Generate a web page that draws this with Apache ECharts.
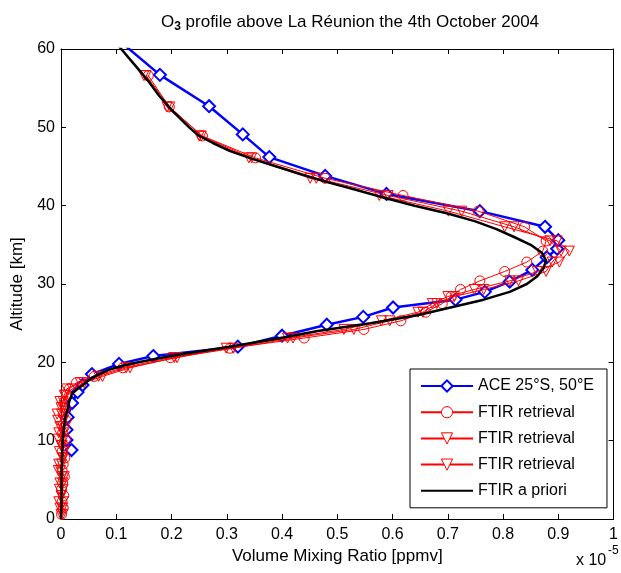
<!DOCTYPE html>
<html>
<head>
<meta charset="utf-8">
<script src="https://cdn.jsdelivr.net/npm/echarts@6/dist/echarts.min.js"></script>
<style>
  html, body { margin: 0; padding: 0; background: #ffffff; }
  #chart { width: 621px; height: 573px; }
</style>
</head>
<body>
<div id="chart"></div>
<script>
// Ozone volume mixing ratio profiles (units of 1e-5 ppmv) versus altitude (km)

// ACE occultation, 25°S 50°E
const aceAlt = [8.8, 10.1, 11.4, 13.0, 14.8, 16.2, 17.1, 18.5, 19.8, 20.8, 22.0, 23.4, 24.8, 25.8, 27.0, 28.0, 29.0, 30.3, 31.8, 33.4, 34.5, 35.6, 37.3, 39.3, 41.5, 43.8, 46.2, 49.1, 52.7, 56.7, 61.5];
const aceVmr = [0.019, 0.010, 0.010, 0.012, 0.020, 0.030, 0.039, 0.056, 0.105, 0.167, 0.320, 0.400, 0.481, 0.547, 0.601, 0.714, 0.767, 0.812, 0.853, 0.879, 0.898, 0.900, 0.876, 0.758, 0.589, 0.478, 0.377, 0.329, 0.268, 0.179, 0.098];

// FTIR retrieval grid (shared by the three retrievals)
const ftirAlt = [0.6, 1.4, 2.2, 3.0, 3.8, 4.6, 5.4, 6.2, 7.0, 7.8, 8.6, 9.4, 10.2, 11.0, 11.8, 12.6, 13.4, 14.2, 15.0, 15.8, 16.6, 17.4, 18.2, 19.3, 20.6, 21.8, 23.1, 24.2, 25.3, 26.4, 27.5, 28.4, 29.3, 30.4, 31.6, 32.8, 34.2, 35.5, 37.3, 39.3, 41.3, 43.5, 46.1, 48.9, 52.6, 56.6];
const ftirCircle = [0.001, 0.004, 0.002, 0.005, 0.001, 0.003, 0.006, 0.002, 0.004, 0.007, 0.002, 0.005, 0.008, 0.003, 0.006, 0.009, 0.004, 0.008, 0.006, 0.010, 0.015, 0.028, 0.060, 0.112, 0.198, 0.306, 0.440, 0.548, 0.615, 0.660, 0.690, 0.706, 0.723, 0.758, 0.803, 0.843, 0.872, 0.878, 0.839, 0.755, 0.619, 0.478, 0.352, 0.256, 0.196, 0.158];
const ftirTriA = [0.000, 0.003, -0.004, 0.001, 0.004, -0.002, 0.002, -0.005, 0.001, 0.004, -0.003, 0.002, 0.005, -0.004, 0.002, -0.006, 0.001, 0.004, -0.002, 0.006, 0.010, 0.035, 0.068, 0.118, 0.210, 0.299, 0.410, 0.512, 0.580, 0.646, 0.672, 0.700, 0.748, 0.812, 0.862, 0.902, 0.920, 0.898, 0.803, 0.701, 0.576, 0.451, 0.340, 0.250, 0.192, 0.150];
const ftirTriB = [0.003, -0.002, 0.004, 0.000, -0.003, 0.003, 0.006, -0.001, -0.004, 0.003, 0.006, 0.000, -0.005, 0.004, -0.002, 0.005, -0.007, 0.000, 0.004, 0.008, 0.020, 0.042, 0.075, 0.125, 0.205, 0.312, 0.420, 0.530, 0.595, 0.655, 0.680, 0.712, 0.765, 0.828, 0.878, 0.889, 0.905, 0.885, 0.820, 0.725, 0.592, 0.462, 0.345, 0.254, 0.197, 0.154];

// FTIR a priori profile
const aprioriAlt = [0, 2, 4, 6, 8, 10, 12, 13, 14, 15, 16, 16.5, 17, 18, 19, 19.5, 20, 20.5, 21, 22, 23, 24, 25, 26, 27, 28, 29, 30, 31, 32, 33, 34, 35, 36, 37, 38, 39, 40, 41, 42, 43, 44, 45, 46, 47, 48, 49, 50, 52, 54, 56, 58, 60, 62];
const aprioriVmr = [0.000, 0.001, 0.001, 0.001, 0.002, 0.003, 0.006, 0.008, 0.012, 0.015, 0.020, 0.028, 0.038, 0.055, 0.085, 0.108, 0.140, 0.175, 0.215, 0.305, 0.390, 0.465, 0.560, 0.645, 0.705, 0.765, 0.812, 0.843, 0.862, 0.873, 0.878, 0.870, 0.850, 0.820, 0.788, 0.750, 0.700, 0.640, 0.585, 0.535, 0.482, 0.435, 0.390, 0.345, 0.305, 0.275, 0.248, 0.232, 0.203, 0.178, 0.157, 0.133, 0.109, 0.085];

const xTicks = { min: 0, max: 1, step: 0.1 };
const yTicks = { min: 0, max: 60, step: 10 };

const FONT = "'Liberation Sans', Arial, Helvetica, sans-serif";
const pairs = (xs, ys) => xs.map((x, i) => [x, ys[i]]);

const chart = echarts.init(document.getElementById('chart'), null, { renderer: 'canvas' });

const axisCommon = {
  axisLine: { show: true, onZero: false, lineStyle: { color: '#000', width: 1 } },
  axisTick: { show: true, inside: true, length: 5, lineStyle: { color: '#000', width: 1 } },
  splitLine: { show: false }
};

const redSeries = (name, data, symbol, rotate) => ({
  name: name,
  type: 'line',
  data: data,
  symbol: symbol,
  symbolSize: 10,
  symbolRotate: rotate,
  showAllSymbol: true,
  clip: false,
  lineStyle: { color: '#ff0000', width: 1 },
  itemStyle: { color: 'none', borderColor: '#ff0000', borderWidth: 1 },
  emphasis: { disabled: true },
  z: 3
});

const redLegendStyle = { color: '#ffffff', borderColor: '#ff0000', borderWidth: 1 };

const option = {
  animation: false,
  backgroundColor: '#ffffff',
  title: {
    text: '{t|O}{s|3}{t| profile above La Réunion the 4th October 2004}',
    left: 345,
    textAlign: 'center',
    top: 6,
    textStyle: {
      rich: {
        t: { fontFamily: FONT, fontSize: 17, color: '#000', fontWeight: 'normal' },
        s: { fontFamily: FONT, fontSize: 12, color: '#000', verticalAlign: 'bottom', padding: [10, 0, 0, 0] }
      }
    }
  },
  grid: { left: 61, right: 1, top: 49, bottom: 54, containLabel: false },
  xAxis: [
    Object.assign({
      type: 'value', position: 'bottom',
      min: xTicks.min, max: xTicks.max, interval: xTicks.step,
      name: 'Volume Mixing Ratio [ppmv]', nameLocation: 'middle', nameGap: 27,
      nameTextStyle: { fontFamily: FONT, fontSize: 17, color: '#000' },
      axisLabel: { fontFamily: FONT, fontSize: 16, color: '#000', margin: 8 }
    }, axisCommon),
    Object.assign({
      type: 'value', position: 'top',
      min: xTicks.min, max: xTicks.max, interval: xTicks.step,
      axisLabel: { show: false }
    }, axisCommon)
  ],
  yAxis: [
    Object.assign({
      type: 'value', position: 'left',
      min: yTicks.min, max: yTicks.max, interval: yTicks.step,
      name: 'Altitude [km]', nameLocation: 'middle', nameGap: 35, nameRotate: 90,
      nameTextStyle: { fontFamily: FONT, fontSize: 17, color: '#000' },
      axisLabel: { fontFamily: FONT, fontSize: 16, color: '#000', margin: 6 }
    }, axisCommon),
    Object.assign({
      type: 'value', position: 'right',
      min: yTicks.min, max: yTicks.max, interval: yTicks.step,
      axisLabel: { show: false }
    }, axisCommon)
  ],
  legend: {
    orient: 'vertical',
    left: 410, top: 369,
    padding: [9, 13, 9, 10],
    itemGap: 10.2,
    itemWidth: 52,
    itemHeight: 14,
    borderColor: '#000', borderWidth: 1,
    backgroundColor: '#ffffff',
    borderRadius: 0,
    textStyle: { fontFamily: FONT, fontSize: 16, color: '#000' },
    selectedMode: false,
    data: [
      'ACE 25°S, 50°E',
      { name: 'FTIR retrieval', itemStyle: redLegendStyle },
      { name: 'FTIR retrieval ', itemStyle: redLegendStyle },
      { name: 'FTIR retrieval  ', itemStyle: redLegendStyle },
      { name: 'FTIR a priori', itemStyle: { color: 'rgba(0,0,0,0)', borderWidth: 0 } }
    ]
  },
  graphic: [
    {
      type: 'text', left: 576, top: 553,
      style: { text: 'x 10', font: '16px ' + FONT, fill: '#000' }
    },
    {
      type: 'text', left: 608, top: 545,
      style: { text: '-5', font: '12px ' + FONT, fill: '#000' }
    }
  ],
  series: [
    {
      name: 'ACE 25°S, 50°E',
      type: 'line',
      data: pairs(aceVmr, aceAlt),
      symbol: 'emptyDiamond',
      symbolSize: 12,
      showAllSymbol: true,
      clip: true,
      lineStyle: { color: '#0000ff', width: 2.5 },
      itemStyle: { color: '#0000ff', borderWidth: 2 },
      emphasis: { disabled: true },
      z: 2
    },
    redSeries('FTIR retrieval', pairs(ftirCircle, ftirAlt), 'circle', 0),
    redSeries('FTIR retrieval ', pairs(ftirTriA, ftirAlt), 'triangle', 180),
    redSeries('FTIR retrieval  ', pairs(ftirTriB, ftirAlt), 'triangle', 180),
    {
      name: 'FTIR a priori',
      type: 'line',
      data: pairs(aprioriVmr, aprioriAlt),
      symbol: 'none',
      clip: true,
      lineStyle: { color: '#000000', width: 2.5 },
      itemStyle: { color: '#000000' },
      emphasis: { disabled: true },
      z: 4
    }
  ]
};

chart.setOption(option);
</script>
</body>
</html>
